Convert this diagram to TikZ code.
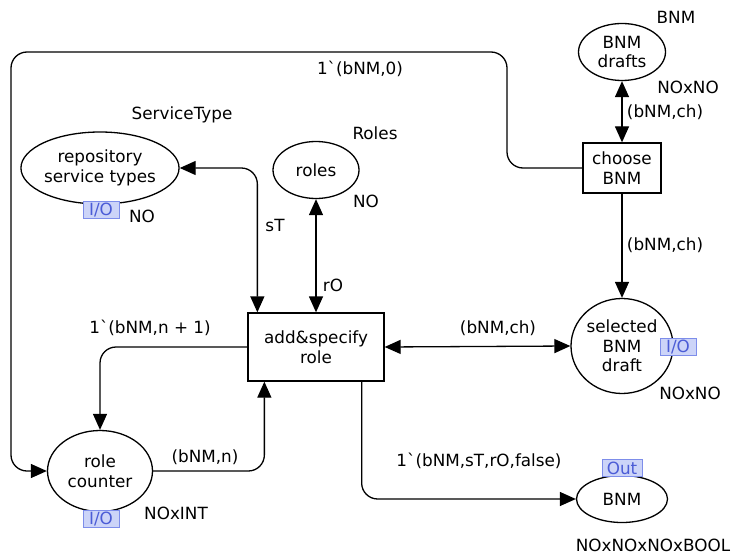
\documentclass[tikz,border=0pt]{standalone}
\usepackage{fontspec}
\setmainfont{DejaVu Sans}[Ligatures=TeXOff]
\usetikzlibrary{arrows.meta,shapes.geometric,calc}

\definecolor{tagfill}{HTML}{CCD4F8}
\definecolor{tagdraw}{HTML}{7D8DEA}
\definecolor{tagtext}{HTML}{4B5CD6}

\begin{document}
\begin{tikzpicture}[x=1pt,y=-1pt,
  font=\fontsize{16.8}{19.5}\selectfont,
  place/.style={draw,ellipse,line width=1.3pt,inner sep=0pt,align=center},
  trans/.style={draw,rectangle,line width=1.3pt,inner sep=0pt,align=center},
  arc/.style={line width=1.3pt,rounded corners=16pt,-{Triangle[length=16pt,width=14pt]}},
  biarc/.style={line width=1.3pt,rounded corners=16pt,{Triangle[length=16pt,width=14pt]}-{Triangle[length=16pt,width=14pt]}},
  inscr/.style={inner sep=0pt},
  porttag/.style={draw=tagdraw,fill=tagfill,text=tagtext,line width=0.8pt,
    inner sep=0pt,minimum width=36pt,minimum height=17pt}
]
\useasboundingbox (0,0) rectangle (735,556);

% places
\node[place,minimum width=147,minimum height=72] (rst) at (100,168) {repository\\service types};
\node[place,minimum width=86,minimum height=57] (roles) at (316,170) {roles};
\node[place,minimum width=87,minimum height=57] (drafts) at (622,52) {BNM\\drafts};
\node[place,minimum width=102,minimum height=95] (sel) at (622,346) {selected\\BNM\\draft};
\node[place,minimum width=105,minimum height=81] (counter) at (100,471) {role\\counter};
\node[place,minimum width=91,minimum height=47] (bnm) at (622,499) {BNM};

% transitions
\node[trans,minimum width=136,minimum height=68] (add) at (316,347) {add\&specify\\role};
\node[trans,minimum width=78,minimum height=50] (choose) at (622,168) {choose\\BNM};

% colour sets
\node[inscr] (csRst) at (182,115) {ServiceType};
\node[inscr] (csRoles) at (375,133) {Roles};
\node[inscr] (csDrafts) at (676,17) {BNM};
\node[inscr] (tyRst) at (142,216) {NO};
\node[inscr] (tyRoles) at (366,201) {NO};
\node[inscr] (tyDrafts) at (688,87) {NOxNO};
\node[inscr] (tySel) at (690,393) {NOxNO};
\node[inscr] (tyCounter) at (176,513) {NOxINT};
\node[inscr] (tyBnm) at (653,545) {NOxNOxNOxBOOL};

% port tags
\node[porttag] (pRst) at (101,210) {I/O};
\node[porttag] (pSel) at (678,347) {I/O};
\node[porttag] (pCounter) at (101,519) {I/O};
\node[porttag,minimum width=40pt] (pBnm) at (622,468) {Out};

% arcs
\draw[arc] (choose.west) -| (507,52) -| (11,471) -- (counter.west);
\node[inscr] (eLoop) at (360,69) {1`(bNM,0)};

\draw[biarc] (drafts.south) -- (choose.north);
\node[inscr] (eDrafts) at (665,112) {(bNM,ch)};

\draw[arc] (choose.south) -- (sel.north);
\node[inscr] (eSel) at (665,245) {(bNM,ch)};

\draw[biarc] (rst.east) -| ($(add.north west)+(10,0)$);
\node[inscr] (eST) at (275,225) {sT};

\draw[biarc] (roles.south) -- (add.north);
\node[inscr] (eRO) at (333,285) {rO};

\draw[arc] (add.west) -| (counter.north);
\node[inscr] (eInc) at (150,328) {1`(bNM,n + 1)};

\draw[arc] (counter.east) -| ($(add.south west)+(17,0)$);
\node[inscr] (eCnt) at (205,457) {(bNM,n)};

\draw[biarc] (add.east) -- (sel.west);
\node[inscr] (eCh) at (498,328) {(bNM,ch)};

\draw[arc] ($(add.south east)+(-23,0)$) |- (bnm.west);
\node[inscr] (eOut) at (479,461) {1`(bNM,sT,rO,false)};
\end{tikzpicture}
\end{document}
